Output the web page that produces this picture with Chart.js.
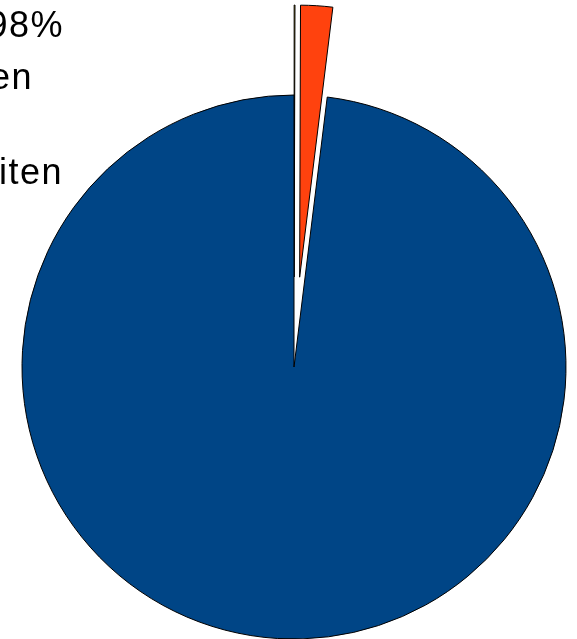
<!DOCTYPE html>
<html lang="de">

<head>
    <meta charset="UTF-8">
    <title>Anteile</title>
    <script src="https://cdn.jsdelivr.net/npm/chart.js@4"></script>
    <style>
        html, body { margin: 0; padding: 0; background: #fff; overflow: hidden; }
        #wrap { width: 577px; height: 639px; position: relative; }
    </style>
</head>

<body>
    <div id="wrap"><canvas id="canvas"></canvas></div>
    <script>
        // data
        const labels = ['Sonstiges', 'Störungen', 'Verfügbar'];
        const values = [0.05, 1.9, 98.05];
        const colors = ['#ffd320', '#ff420e', '#004586'];
        const explode = [90, 90, 0];

        // texte am linken rand (im original abgeschnitten)
        const textLines = ['Verfügbar 98%', 'Anlagen', 'Bauarbeiten'];

        // gesprengte stuecke: mittelpunkt entlang der winkelhalbierenden verschieben
        const explodePlugin = {
            id: 'explode',
            afterDatasetUpdate(chart, args) {
                let meta = chart.getDatasetMeta(args.index);
                meta.data.forEach(function (arc, i) {
                    let d = explode[i] || 0;
                    if (!d) return;
                    let mid = (arc.startAngle + arc.endAngle) / 2;
                    arc.x += Math.cos(mid) * d;
                    arc.y += Math.sin(mid) * d;
                });
            }
        };

        const textPlugin = {
            id: 'sidetext',
            afterDraw(chart) {
                let ctx = chart.ctx;
                ctx.save();
                ctx.font = '36px "Liberation Sans", Arial, sans-serif';
                ctx.letterSpacing = '1.5px';
                ctx.fillStyle = '#000';
                ctx.textAlign = 'right';
                ctx.textBaseline = 'alphabetic';
                ctx.fillText(textLines[0], 64, 37);
                ctx.fillText(textLines[1], 33, 89);
                ctx.fillText(textLines[2], 63, 184);
                ctx.restore();
            }
        };

        let ctx = document.getElementById('canvas').getContext('2d');
        let config = {
            type: 'pie',
            data: {
                labels: labels,
                datasets: [{
                    data: values,
                    backgroundColor: colors,
                    borderColor: '#000',
                    borderWidth: 1,
                    hoverOffset: 0,
                    radius: 272,
                    clip: false
                }]
            },
            options: {
                responsive: true,
                maintainAspectRatio: false,
                animation: false,
                events: [],
                layout: { padding: { left: 11, right: 0, top: 95, bottom: 0 } },
                plugins: {
                    legend: { display: false },
                    tooltip: { enabled: false }
                }
            },
            plugins: [explodePlugin, textPlugin]
        };

        let chart = new Chart(ctx, config);
    </script>
</body>

</html>
